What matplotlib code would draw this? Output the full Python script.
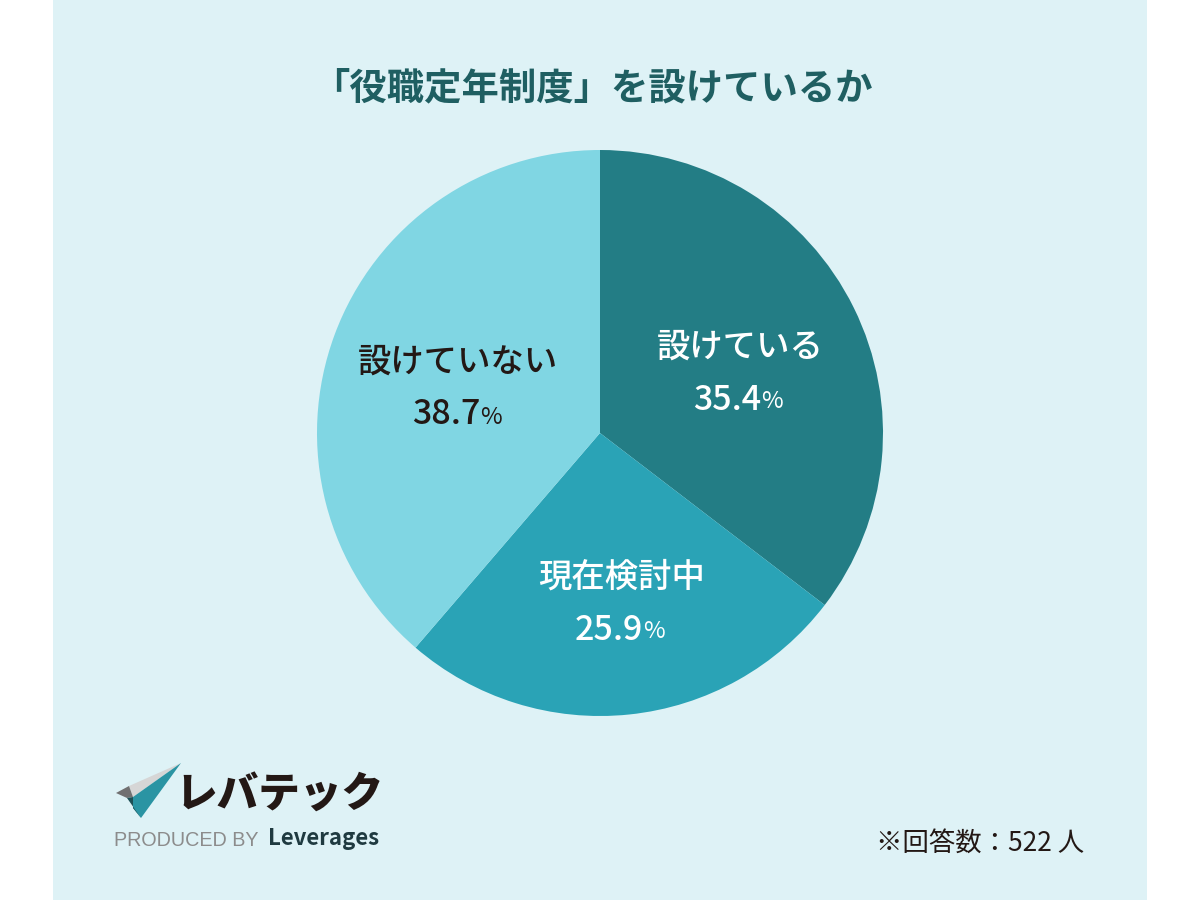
import matplotlib
matplotlib.use('Agg')
import matplotlib.pyplot as plt
from matplotlib.patches import Polygon, Rectangle

plt.rcParams['font.family'] = ['Noto Sans CJK JP', 'DejaVu Sans']

labels = ['設けている', '現在検討中', '設けていない']
values = [35.4, 25.9, 38.7]
value_labels = ['35.4', '25.9', '38.7']
colors = ['#237d85', '#2aa3b6', '#80d6e3']
text_colors = ['white', 'white', '#231815']
label_pos = [(740, 347), (622, 577), (458, 362)]
value_pos = [(761, 400), (643, 630), (480, 415)]

fig = plt.figure(figsize=(12, 9), dpi=100, facecolor='white')
bg = fig.add_axes([0, 0, 1, 1])
bg.set_xlim(0, 1200)
bg.set_ylim(900, 0)
bg.axis('off')
bg.add_patch(Rectangle((53, 0), 1094, 900, color='#def2f6', lw=0))

# pie: center 600,433 radius 283
ax = fig.add_axes([317 / 1200, 1 - 716 / 900, 566 / 1200, 566 / 900])
ax.pie(values, colors=colors, startangle=90, counterclock=False, radius=1)
ax.set_xlim(-1, 1)
ax.set_ylim(-1, 1)

fg = fig.add_axes([0, 0, 1, 1])
fg.set_xlim(0, 1200)
fg.set_ylim(900, 0)
fg.axis('off')
fg.patch.set_alpha(0)

fg.text(592, 88, '「役職定年制度」を設けているか', fontsize=26.9, fontweight='bold',
        color='#1f5f62', ha='center', va='center')

for i in range(3):
    fg.text(label_pos[i][0], label_pos[i][1], labels[i], fontsize=24, color=text_colors[i],
            ha='center', va='center', fontweight='medium')
    fg.text(value_pos[i][0], value_pos[i][1], value_labels[i], fontsize=24.5, color=text_colors[i],
            ha='right', va='center', fontweight='medium')
    fg.text(value_pos[i][0], value_pos[i][1] + 2, '%', fontsize=17, color=text_colors[i],
            ha='left', va='center')

# logo
fg.add_patch(Polygon([(129, 786), (181, 763), (133, 797)], color='#d6d6d6', lw=0))
fg.add_patch(Polygon([(116, 793), (129, 786), (133, 797), (127, 798)], color='#717071', lw=0))
fg.add_patch(Polygon([(133, 797), (181, 763), (141, 818), (133, 808)], color='#2a94a3', lw=0))
fg.add_patch(Polygon([(127, 798), (133, 797), (133, 808), (141, 818)], color='#1d4f55', lw=0))
fg.text(280, 796, 'レバテック', fontsize=30, fontweight='black', color='#231815', ha='center', va='center')
fg.text(114, 840, 'PRODUCED BY', fontsize=14.2, color='#8c8c8c', ha='left', va='center',
        family=['Liberation Sans'])
fg.text(268, 839, 'Leverages', fontsize=16, fontweight='bold', color='#1f3a40', ha='left', va='center')

fg.text(1084, 843, '※回答数：522 人', fontsize=19, color='#231815', ha='right', va='center')

fig.savefig('out.png', dpi=100)
